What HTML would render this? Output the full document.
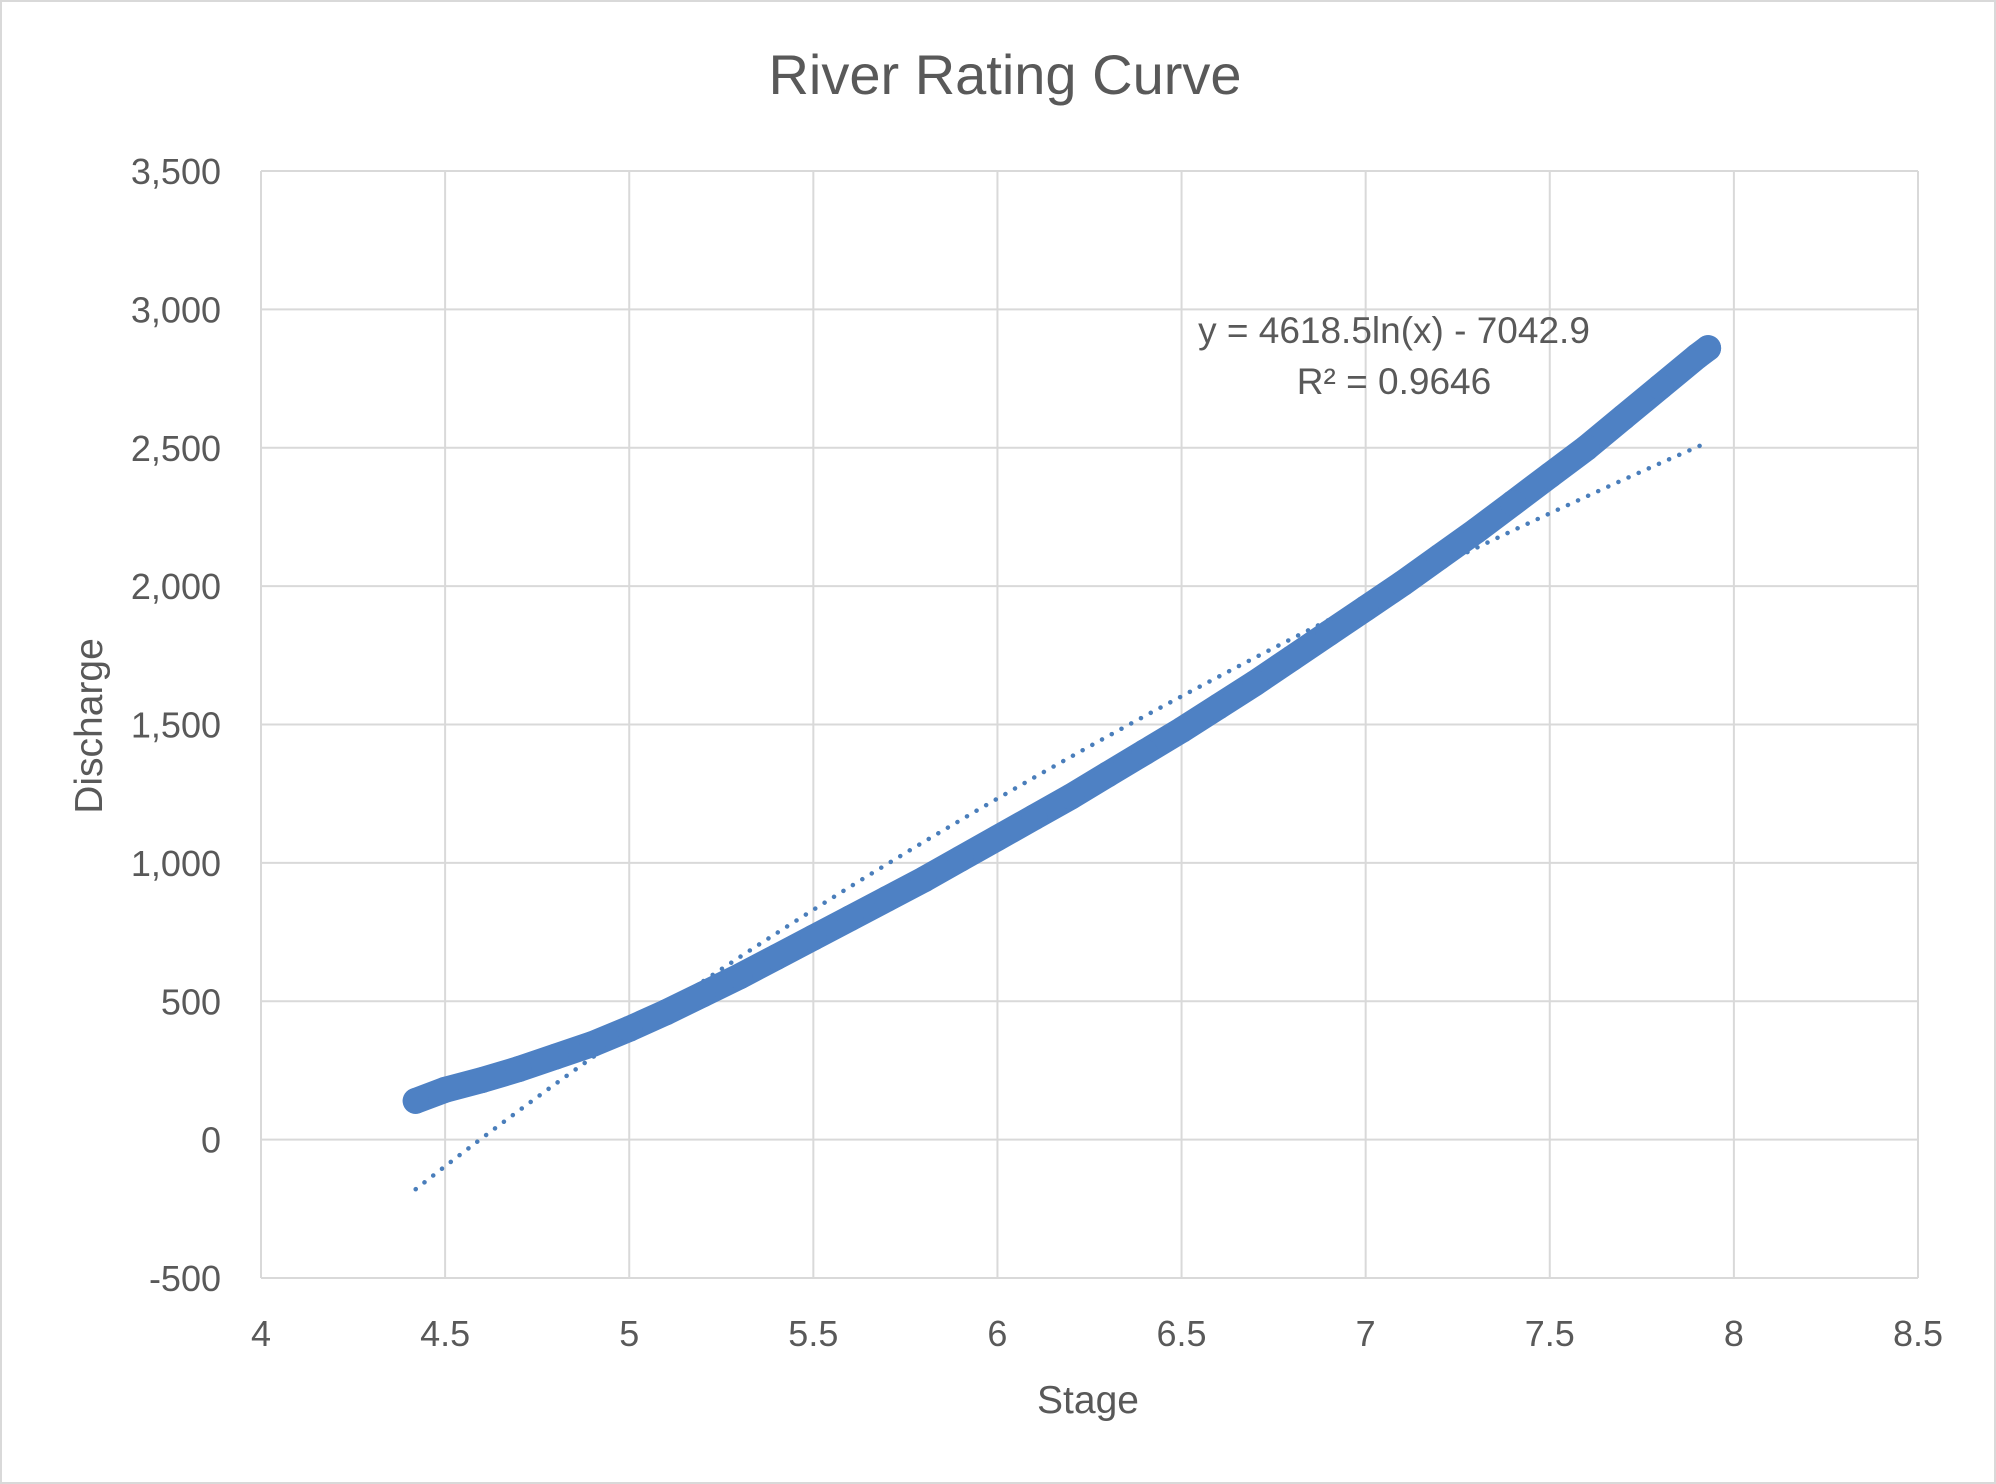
<!DOCTYPE html>
<html><head><meta charset="utf-8"><style>
html,body{margin:0;padding:0;background:#fff}
svg{display:block;font-family:"Liberation Sans",Calibri,sans-serif}
</style></head><body>
<svg width="1996" height="1484" viewBox="0 0 1996 1484">
<rect x="1" y="1" width="1994" height="1482" fill="#fff" stroke="#d9d9d9" stroke-width="2"/>
<text x="1005" y="94" text-anchor="middle" font-size="56" fill="#595959">River Rating Curve</text>
<g id="grid"></g><g id="trend"></g><g id="series"></g><g id="labels"></g>
<text x="1394" y="343" text-anchor="middle" font-size="37" fill="#595959">y = 4618.5ln(x) - 7042.9</text>
<text x="1394" y="394" text-anchor="middle" font-size="37" fill="#595959">R² = 0.9646</text>
<text x="1088" y="1413" text-anchor="middle" font-size="39" fill="#595959">Stage</text>
<text transform="translate(102,726) rotate(-90)" text-anchor="middle" font-size="39" fill="#595959">Discharge</text>
</svg>
<script>
const xTicks=[4,4.5,5,5.5,6,6.5,7,7.5,8,8.5];
const yTicks=[-500,0,500,1000,1500,2000,2500,3000,3500];
const stage=[4.42,4.5,4.6,4.7,4.8,4.9,5.0,5.1,5.2,5.3,5.4,5.5,5.6,5.7,5.8,5.9,6.0,6.1,6.2,6.3,6.4,6.5,6.6,6.7,6.8,6.9,7.0,7.1,7.2,7.3,7.4,7.5,7.6,7.7,7.8,7.9,7.93];
const discharge=[140,180,215,255,300,345,400,460,525,590,660,730,800,870,940,1015,1090,1165,1240,1320,1400,1480,1565,1650,1740,1830,1920,2010,2105,2200,2300,2400,2500,2610,2720,2830,2860];
const trendCoef=[4618.5,-7042.9];
const NS='http://www.w3.org/2000/svg';
const X0=261,X1=1918,Y0=1278,Y1=171;
const sx=v=>X0+(v-4)/(8.5-4)*(X1-X0);
const sy=v=>Y0-(v+500)/(4000)*(Y0-Y1);
function mk(tag,parent,attrs){const e=document.createElementNS(NS,tag);for(const k in attrs)e.setAttribute(k,attrs[k]);document.getElementById(parent).appendChild(e);return e;}
xTicks.forEach(t=>{
 const l=mk('line','grid',{x1:sx(t),x2:sx(t),y1:Y1,y2:Y0,stroke:'#d9d9d9','stroke-width':2});
 
 
 const tx=mk('text','labels',{x:sx(t),y:1346,'text-anchor':'middle','font-size':36,fill:'#595959'});
 tx.textContent=String(t);
 
 
});
yTicks.forEach(t=>{
 const l=mk('line','grid',{x1:X0,x2:X1,y1:sy(t),y2:sy(t),stroke:'#d9d9d9','stroke-width':2});
 
 
 const tx=mk('text','labels',{x:221,y:sy(t)+13,'text-anchor':'end','font-size':36,fill:'#595959'});
 tx.textContent=t.toLocaleString('en-US');
 
 
});
let td='';const a=stage[0],b=stage[stage.length-1];
for(let i=0;i<=60;i++){const x=a+(b-a)*i/60;const y=trendCoef[0]*Math.log(x)+trendCoef[1];td+=(i?'L':'M')+sx(x).toFixed(1)+','+sy(y).toFixed(1);}
const tr=mk('path','trend',{d:td,fill:'none',stroke:'#4a7ebb','stroke-width':4.5,'stroke-dasharray':'0.1 11','stroke-linecap':'round'});


let pd='';stage.forEach((s,i)=>{pd+=(i?'L':'M')+sx(s).toFixed(1)+','+sy(discharge[i]).toFixed(1);});
const band=mk('path','series',{d:pd,fill:'none',stroke:'#4e81c4','stroke-width':26,'stroke-linecap':'round','stroke-linejoin':'round'});


stage.forEach((s,i)=>{
 const c=mk('circle','series',{cx:sx(s),cy:sy(discharge[i]),r:13,fill:'#4e81c4'});
 
 
});
</script>
</body></html>
